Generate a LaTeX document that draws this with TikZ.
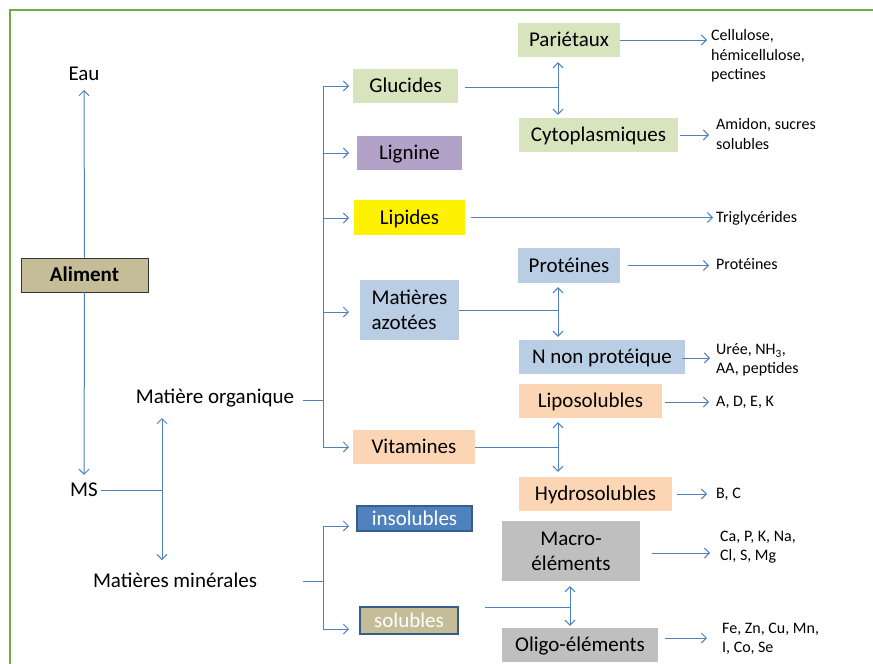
\documentclass[tikz,border=0pt]{standalone}
\usepackage{fontspec}
\setmainfont{Carlito}
\usetikzlibrary{arrows.meta}
\definecolor{lineblue}{HTML}{4F81BD}
\definecolor{framegreen}{HTML}{70AD47}
\definecolor{tanc}{HTML}{C4BD97}
\definecolor{lgreen}{HTML}{D7E4BD}
\definecolor{lpurple}{HTML}{B3A2C7}
\definecolor{lblue}{HTML}{B9CDE5}
\definecolor{lpeach}{HTML}{FCD5B5}
\definecolor{lgray}{HTML}{BFBFBF}
\definecolor{dblue}{HTML}{4F81BD}
\definecolor{dborder}{HTML}{385D8A}
\newcommand\fbig{\fontsize{21}{25}\selectfont}
\newcommand\fsmall{\fontsize{16}{19.5}\selectfont}
\begin{document}
\begin{tikzpicture}[x=1pt,y=-1pt,
  conn/.style={draw=lineblue,line width=1pt},
  arr/.style={conn,-{Straight Barb[length=5pt,width=10pt]}},
  darr/.style={conn,{Straight Barb[length=5pt,width=10pt]}-{Straight Barb[length=5pt,width=10pt]}},
  box/.style={inner sep=0pt,font=\fbig,text height=15pt,text depth=1.8pt},
  box2/.style={inner sep=0pt,font=\fbig},
  lbl/.style={inner sep=0pt,font=\fbig},
  note/.style={inner sep=0pt,font=\fsmall,align=left,anchor=west}]
\useasboundingbox (0,0) rectangle (873,664);
\draw[framegreen,line width=1.5pt] (10,664) -- (10,10) -- (873,10);

% left part
\node[lbl] (eau) at (84,74) {Eau};
\node[box,fill=tanc,draw=black!80,line width=0.8pt,minimum width=127pt,minimum height=34pt,font=\fbig\bfseries] (aliment) at (84.5,275) {Aliment};
\node[lbl] (ms) at (84,490) {MS};
\node[lbl] (mo) at (215,398) {Matière organique};
\node[lbl] (mm) at (175,580) {Matières minérales};

\draw[arr,shorten >=9pt] (aliment.north) -- (eau.south);
\draw[arr,shorten >=8pt] (aliment.south) -- (ms.north);
\coordinate (jms) at (162,490);
\coordinate (moa) at (162,418);
\coordinate (mma) at (162,560);
\draw[conn] ([xshift=3pt]ms.east) -- (jms);
\draw[darr] (moa) -- (mma);

% organic trunk
\coordinate (mos) at (303,400);
\coordinate (tmo) at (323,400);
\coordinate (tgl) at (323,86);
\coordinate (tli) at (323,153);
\coordinate (tlp) at (323,218);
\coordinate (taz) at (323,312);
\coordinate (tvi) at (323,447);
\draw[conn] (mos) -- (tmo);
\draw[conn] (tgl) -- (tvi);

% first-level boxes
\node[box,fill=lgreen,minimum width=105pt,minimum height=34pt] (gluc) at (405.5,86) {Glucides};
\node[box,fill=lpurple,minimum width=105pt,minimum height=34pt] (lign) at (409.5,153) {Lignine};
\node[box,fill=yellow,minimum width=111pt,minimum height=35pt] (lipi) at (409.5,217.5) {Lipides};
\node[box2,fill=lblue,minimum width=99pt,minimum height=60pt,align=left] (azot) at (409.5,310) {Matières\\azotées};
\node[box,fill=lpeach,minimum width=122pt,minimum height=34pt] (vita) at (414,447) {Vitamines};

\draw[arr] (tgl) -- (tgl -| 349,0);
\draw[arr] (tli) -- (tli -| 349,0);
\draw[arr] (tlp) -- (tlp -| 349,0);
\draw[arr] (taz) -- (taz -| 349,0);
\draw[arr] (tvi) -- (tvi -| 349,0);

% second-level boxes
\node[box,fill=lgreen,minimum width=102pt,minimum height=34pt] (pari) at (569,40) {Pariétaux};
\node[box,fill=lgreen,minimum width=159pt,minimum height=34pt] (cyto) at (598.5,135) {Cytoplasmiques};
\node[box,fill=lblue,minimum width=102pt,minimum height=35pt] (prot) at (569,265.5) {Protéines};
\node[box,fill=lblue,minimum width=166pt,minimum height=34pt] (nnp) at (602,357) {N non protéique};
\node[box,fill=lpeach,minimum width=143pt,minimum height=34pt] (lipo) at (590.5,401) {Liposolubles};
\node[box,fill=lpeach,minimum width=153pt,minimum height=34pt] (hydr) at (595.5,494) {Hydrosolubles};

% junctions
\coordinate (jg) at (558,87);
\coordinate (ja) at (558,310);
\coordinate (jv) at (558,447);
\draw[conn] ([xshift=7pt]gluc.east |- jg) -- (jg);
\draw[darr,shorten <=5pt,shorten >=3pt] (jg |- pari.south) -- (jg |- cyto.north);
\draw[conn] (azot.east |- ja) -- (ja);
\draw[darr,shorten <=4pt,shorten >=3pt] (ja |- prot.south) -- (ja |- nnp.north);
\draw[conn] (vita.east) -- (jv);
\draw[darr,shorten <=4pt,shorten >=5pt] (jv |- lipo.south) -- (jv |- hydr.north);

% notes
\node[note] (cell) at (711,56) {Cellulose,\\hémicellulose,\\pectines};
\node[note] (amid) at (716,134) {Amidon, sucres\\solubles};
\node[note] (trig) at (716,218) {Triglycérides};
\node[note] (protn) at (716,264) {Protéines};
\node[note] (uree) at (716,360) {Urée, NH\textsubscript{3},\\AA, peptides};
\node[note] (adek) at (716,402) {A, D, E, K};
\node[note] (bc) at (716,494) {B, C};
\node[note] (macn) at (720,547) {Ca, P, K, Na,\\Cl, S, Mg};
\node[note] (olin) at (722,639) {Fe, Zn, Cu, Mn,\\I, Co, Se};

\draw[arr] (pari.east) -- (pari.east -| 707,0);
\draw[arr] ([xshift=2pt]cyto.east) -- (cyto.east -| 709,0);
\draw[arr] ([xshift=6pt]lipi.east) -- (lipi.east -| 713,0);
\draw[arr] ([xshift=8pt]prot.east) -- (prot.east -| 709,0);
\draw[arr] ([xshift=-3pt,yshift=-1pt]nnp.east) -- ([yshift=-1pt]nnp.east -| 710,0);
\draw[arr] ([xshift=3pt,yshift=-1pt]lipo.east) -- ([yshift=-1pt]lipo.east -| 709,0);
\draw[arr] ([xshift=5pt]hydr.east) -- (hydr.east -| 707,0);

% mineral part
\coordinate (mms) at (303,581);
\coordinate (tmm) at (323,581);
\coordinate (tin) at (323,526);
\coordinate (tso) at (323,629);
\draw[conn] (mms) -- (tmm);
\draw[conn] (tin) -- (tso);

\node[box,fill=dblue,draw=dborder,line width=1.6pt,text=white,minimum width=115pt,minimum height=25pt] (inso) at (414.5,518.5) {insolubles};
\node[box,fill=tanc,draw=dborder,line width=1.6pt,text=white,minimum width=98pt,minimum height=27pt] (solu) at (409,620.5) {solubles};
\draw[arr] (tin) -- (tin -| 349,0);
\draw[arr] (tso) -- (tso -| 349,0);

\node[box2,fill=lgray,minimum width=138pt,minimum height=60pt,align=center] (macr) at (571,551) {Macro-\\éléments};
\node[box,fill=lgray,minimum width=156pt,minimum height=34pt] (olig) at (580,645) {Oligo-éléments};
\coordinate (js) at (570,607);
\coordinate (jss) at (485,607);
\draw[conn] (jss) -- (js);
\draw[darr,shorten <=5pt,shorten >=2pt] (js |- macr.south) -- (js |- olig.north);

\draw[arr] ([xshift=12pt,yshift=-2pt]macr.east) -- ([yshift=-2pt]macr.east -| 710,0);
\draw[arr] ([xshift=7pt,yshift=7pt]olig.east) -- ([yshift=7pt]olig.east -| 707,0);
\end{tikzpicture}
\end{document}
